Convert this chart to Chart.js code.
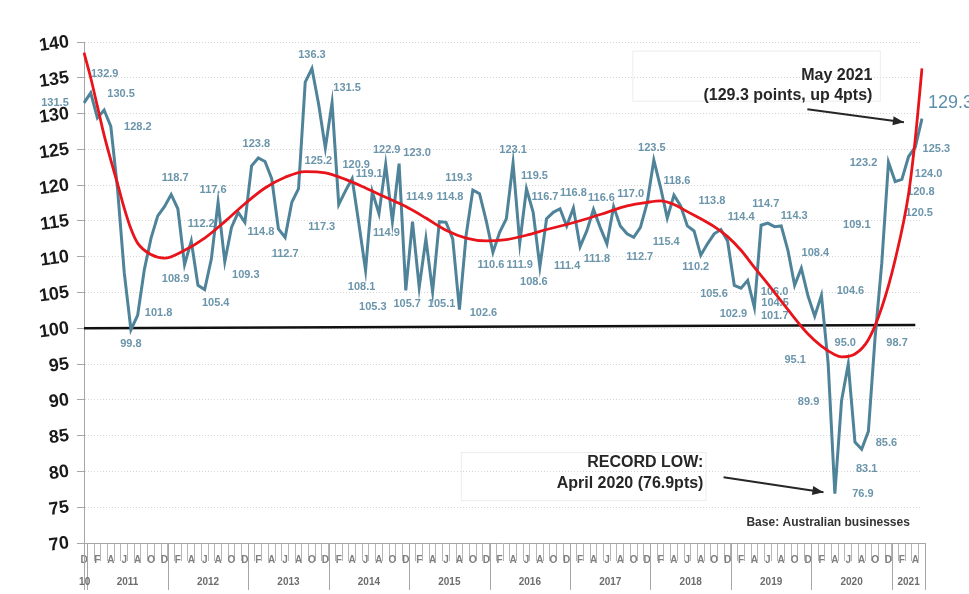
<!DOCTYPE html>
<html>
<head>
<meta charset="utf-8">
<script src="https://cdn.jsdelivr.net/npm/chart.js@4.4.1/dist/chart.umd.min.js"></script>
<style>
  html, body { margin: 0; padding: 0; background: #ffffff; }
  canvas { display: block; }
</style>
</head>
<body>
<canvas id="chart" width="969" height="594"></canvas>
<script>
// ---------------- DATA ----------------
const monthNames = ['Jan','Feb','Mar','Apr','May','Jun','Jul','Aug','Sep','Oct','Nov','Dec'];
const monthLetters = ['J','F','M','A','M','J','J','A','S','O','N','D'];
const yearLabels = ['10','2011','2012','2013','2014','2015','2016','2017','2018','2019','2020','2021'];
const startYear = 2010;
const startMonth = 11; // December 2010

// Monthly index, Dec 2010 .. May 2021
const confidence = [
  131.5,132.9,129.4,130.5,128.2,119.5,107.8,99.8,101.8,108.2,112.6,115.7,117.0,
  118.7,116.7,108.9,112.2,106.0,105.4,109.7,117.6,109.3,114.1,116.2,114.8,
  122.7,123.8,123.3,120.9,113.9,112.7,117.6,119.5,134.4,136.3,131.3,125.2,
  131.5,117.3,119.2,120.9,114.6,108.1,119.1,116.0,122.9,114.9,123.0,105.3,
  114.9,105.7,112.5,105.1,114.9,114.8,112.5,102.6,113.0,119.3,118.8,115.0,
  110.6,113.4,115.3,123.1,111.9,119.5,116.2,108.6,115.3,116.2,116.7,114.3,
  116.8,111.4,113.6,116.6,114.1,111.8,117.0,114.3,113.2,112.7,114.1,117.5,
  123.5,119.7,115.4,118.6,117.1,114.3,113.6,110.2,111.8,113.2,113.8,112.2,
  106.0,105.6,106.7,102.9,114.4,114.7,114.2,114.3,110.9,106.0,108.4,104.5,
  101.7,104.6,95.1,76.9,89.9,95.0,84.1,83.1,85.6,98.7,109.1,123.2,
  120.5,120.8,124.0,125.3,129.3
];

// Red trend curve at selected months (month index -> value)
const trendMonths = [0,1,2,3,4,5,6,7,8,10,12,15,18,21,24,27,30,33,36,39,42,45,48,51,54,57,60,63,66,69,72,75,78,81,84,86,88,90,92,94,96,98,100,102,105,108,110,112,113,115,117,119,121,123,124,125];
const trendValues = [138.5,135.0,131.0,127.0,123.5,120.2,116.8,113.9,111.9,110.3,109.8,110.9,112.6,114.9,117.4,119.6,121.1,121.9,121.7,120.8,119.6,118.3,117.0,115.4,113.7,112.6,112.2,112.4,113.0,113.8,114.5,115.3,116.2,117.1,117.6,117.8,117.3,116.3,115.3,114.2,112.8,110.9,108.5,106.2,102.6,99.2,97.5,96.3,96.0,96.4,98.4,102.9,109.6,118.8,126.5,136.3];

// Black reference line near 100 (start and end month)
const baseMonths = [0, 124];
const baseValues = [100.0, 100.45];

// Y-axis ticks
const yMin = 70, yMax = 140, yStep = 5;

// Which points carry a value label
const labelledMonths = [0,1,3,4,7,8,13,15,16,18,20,21,24,26,30,34,36,37,38,40,42,43,45,46,47,48,49,50,52,54,56,58,61,64,65,66,68,71,73,74,76,78,79,82,85,87,88,92,95,98,100,101,102,104,106,107,108,109,110,111,112,113,114,116,117,118,119,120,121,122,123,124,125];

// Annotation texts
const mayTitle = ['May 2021', '(129.3 points, up 4pts)'];
const lowTitle = ['RECORD LOW:', 'April 2020 (76.9pts)'];
const baseNote = 'Base: Australian businesses';

// ---------------- BUILD ----------------
const categories = confidence.map((_, i) => {
  const m = (startMonth + i) % 12;
  const y = startYear + Math.floor((startMonth + i) / 12);
  return monthNames[m] + ' ' + y;
});
const trendSeries = confidence.map(() => null);
trendMonths.forEach((m, k) => { trendSeries[m] = trendValues[k]; });
const baseSeries = confidence.map(() => null);
baseMonths.forEach((m, k) => { baseSeries[m] = baseValues[k]; });

// label offsets (style): [dx, dy] from the point, same order as labelledMonths
const labelOffsets = [
  [-29,0],[14,-19],[17,-16],[27,1],[0,14],[21,-2],[4,-16],[-9,14],[10,-17],[11,13],[-5,-12],[21,13],[16,10],[-2,-14],[0,17],[0,-14],[-7,13],[15,-15],[-17,23],[4,-14],[-4,17],[-3,-18],[1,-14],[-6,11],[18,-11],[-33,17],[7,-25],[-12,16],[9,12],[4,-25],[24,3],[-14,-12],[-2,13],[0,-13],[0,22],[8,-13],[-6,15],[-15,-12],[0,-15],[-13,19],[8,-12],[-10,15],[17,-13],[6,20],[-2,-12],[-1,24],[3,-14],[-5,12],[-9,-29],[-27,6],[-21,6],[-20,-8],[-2,-19],[13,-10],[-20,7],[14,-15],[-33,7],[-40,0],[29,-4],[-33,-3],[28,0],[-33,1],[-3,-21],[5,20],[18,12],[22,5],[-25,-38],[-25,1],[24,31],[19,13],[20,17],[21,2],[27,-16]
];

const FONT = '"Liberation Sans", Arial, sans-serif';
const LABEL_COLOR = '#6b95aa';

const valueLabels = {
  id: 'valueLabels',
  beforeDatasetsDraw(chart) {
    const meta = chart.getDatasetMeta(0);
    const ctx = chart.ctx;
    ctx.save();
    ctx.textAlign = 'center';
    ctx.textBaseline = 'middle';
    labelledMonths.forEach((m, k) => {
      const pt = meta.data[m];
      const off = labelOffsets[k];
      if (m === confidence.length - 1) {
        ctx.font = '18px ' + FONT;
        ctx.fillStyle = '#5b8fab';
        ctx.textAlign = 'left';
        ctx.fillText(confidence[m].toFixed(1), pt.x + off[0] - 21, pt.y + off[1]);
        ctx.textAlign = 'center';
      } else {
        ctx.font = 'bold 11px ' + FONT;
        ctx.fillStyle = LABEL_COLOR;
        ctx.fillText(confidence[m].toFixed(1), pt.x + off[0], pt.y + off[1]);
      }
    });
    ctx.restore();
  }
};

function arrow(ctx, x1, y1, x2, y2) {
  ctx.beginPath();
  ctx.moveTo(x1, y1);
  ctx.lineTo(x2, y2);
  ctx.stroke();
  const a = Math.atan2(y2 - y1, x2 - x1);
  const L = 11, W = 4.5;
  ctx.beginPath();
  ctx.moveTo(x2, y2);
  ctx.lineTo(x2 - L * Math.cos(a) + W * Math.sin(a), y2 - L * Math.sin(a) - W * Math.cos(a));
  ctx.lineTo(x2 - L * Math.cos(a) - W * Math.sin(a), y2 - L * Math.sin(a) + W * Math.cos(a));
  ctx.closePath();
  ctx.fill();
}

const decorations = {
  id: 'decorations',
  afterDraw(chart) {
    const ctx = chart.ctx;
    const xs = chart.scales.x, ys = chart.scales.y;
    const X = v => xs.getPixelForValue(v);
    const Y = v => ys.getPixelForValue(v);
    const n = confidence.length;
    const axisY = chart.chartArea.bottom;
    ctx.save();

    // year separators and year labels
    ctx.strokeStyle = '#a6a6a6';
    ctx.lineWidth = 1;
    const bounds = [];
    for (let b = 12 - startMonth - 0.5; b < n; b += 12) bounds.push(b);
    const endB = n - 0.5;
    const sepXs = [chart.chartArea.left].concat(bounds.map(X), [X(endB)]);
    sepXs.forEach(x => {
      ctx.beginPath();
      ctx.moveTo(Math.round(x) + 0.5, axisY);
      ctx.lineTo(Math.round(x) + 0.5, axisY + 47);
      ctx.stroke();
    });
    ctx.beginPath();
    ctx.moveTo(chart.chartArea.right, axisY + 0.5);
    ctx.lineTo(X(endB), axisY + 0.5);
    ctx.stroke();

    ctx.font = 'bold 10px ' + FONT;
    ctx.fillStyle = '#6e6e6e';
    ctx.textAlign = 'center';
    ctx.textBaseline = 'middle';
    const edges = [-0.3].concat(bounds, [endB]);
    yearLabels.forEach((lab, k) => {
      const c = (X(edges[k]) + X(edges[k + 1])) / 2;
      ctx.fillText(lab, c, axisY + 39);
    });

    // faint text boxes
    ctx.strokeStyle = '#ececec';
    ctx.strokeRect(X(81.8) + 0.5, Y(138.8) + 0.5, X(118.7) - X(81.8), Y(131.8) - Y(138.8));
    ctx.strokeRect(X(56.2) + 0.5, Y(82.7) + 0.5, X(92.7) - X(56.2), Y(76.0) - Y(82.7));

    // annotations
    ctx.fillStyle = '#262626';
    ctx.strokeStyle = '#262626';
    ctx.font = 'bold 16px ' + FONT;
    ctx.textAlign = 'right';
    ctx.fillText(mayTitle[0], X(117.6), Y(135.3));
    ctx.fillText(mayTitle[1], X(117.6), Y(132.5));
    ctx.fillText(lowTitle[0], X(92.4), Y(81.2));
    ctx.fillText(lowTitle[1], X(92.4), Y(78.3));
    ctx.lineWidth = 2;
    arrow(ctx, X(107.9), Y(130.6), X(122.3), Y(128.8));
    arrow(ctx, X(95.4), Y(79.2), X(110.3), Y(77.1));

    ctx.font = 'bold 12px ' + FONT;
    ctx.textAlign = 'center';
    ctx.fillStyle = '#333333';
    ctx.fillText(baseNote, X(111.0), Y(72.8));
    ctx.restore();
  }
};

const ctx = document.getElementById('chart').getContext('2d');
new Chart(ctx, {
  type: 'line',
  data: {
    labels: categories,
    datasets: [
      {
        label: 'Business Confidence',
        data: confidence,
        borderColor: '#4f8399',
        borderWidth: 3,
        pointRadius: 0,
        tension: 0,
        order: 1
      },
      {
        label: 'Trend',
        data: trendSeries,
        borderColor: '#e8141b',
        borderWidth: 2.8,
        pointRadius: 0,
        spanGaps: true,
        cubicInterpolationMode: 'monotone',
        order: 0
      },
      {
        label: '100',
        data: baseSeries,
        borderColor: '#111111',
        borderWidth: 2.5,
        pointRadius: 0,
        spanGaps: true,
        tension: 0,
        order: 2
      }
    ]
  },
  options: {
    responsive: false,
    animation: false,
    devicePixelRatio: 1,
    layout: { padding: { top: 42, right: 47, bottom: 0, left: 0 } },
    plugins: { legend: { display: false }, tooltip: { enabled: false } },
    scales: {
      x: {
        type: 'category',
        offset: false,
        ticks: {
          autoSkip: false,
          maxRotation: 0,
          minRotation: 0,
          padding: -7,
          color: '#7f7f7f',
          font: { family: FONT, size: 10, weight: 'bold' },
          callback: (v, i) => (i % 2 === 0 ? monthLetters[(startMonth + i) % 12] : '')
        },
        grid: { drawOnChartArea: false, offset: true, tickLength: 18, color: '#b5b5b5', lineWidth: 1 },
        border: { display: true, color: '#a6a6a6', width: 1 },
        afterFit: s => { s.height = 51; }
      },
      y: {
        min: yMin,
        max: yMax,
        ticks: {
          stepSize: yStep,
          padding: 8,
          minRotation: 8,
          maxRotation: 8,
          color: '#1a1a1a',
          font: { family: FONT, size: 18, weight: 'bold' }
        },
        grid: { color: '#d4d4d4', lineWidth: 1, tickLength: 7, tickColor: '#a6a6a6', tickBorderDash: [] },
        border: { display: true, color: '#a6a6a6', width: 1, dash: [1, 2] },
        afterFit: s => { s.width = 84; }
      }
    }
  },
  plugins: [valueLabels, decorations]
});
</script>
</body>
</html>
